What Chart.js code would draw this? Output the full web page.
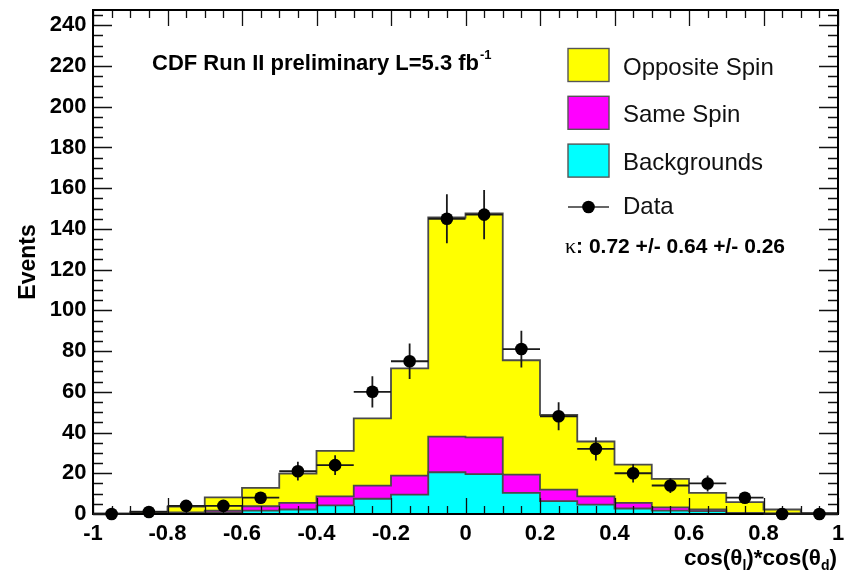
<!DOCTYPE html>
<html lang="en">
<head>
<meta charset="UTF-8" />
<title>cos(θl)*cos(θd) distribution</title>
<script src="https://cdn.jsdelivr.net/npm/chart.js"></script>
<style>
  body { margin: 0; background: #fff; }
  canvas { display: block; }
</style>
</head>
<body>
<canvas id="spinChart" width="848" height="570"></canvas>
<script>
// histogram binning: 20 bins of 0.1 from -1 to 1
const binEdges = [-1, -0.9, -0.8, -0.7, -0.6, -0.5, -0.4, -0.3, -0.2, -0.1, 0,
                  0.1, 0.2, 0.3, 0.4, 0.5, 0.6, 0.7, 0.8, 0.9, 1];

// stacked expectations per bin (events)
const backgrounds = [0.1, 0.2, 0.3, 0.8, 1.7, 2.2, 4.2, 7.5, 9.5, 20.5,
                     19.6, 10.4, 6.3, 4.6, 2.7, 1.7, 1.4, 0.3, 0.2, 0.1];
const sameSpin = [0.0, 0.1, 0.5, 0.9, 2.1, 3.3, 4.5, 6.4, 9.3, 17.5,
                  18.0, 8.9, 5.7, 4.1, 2.8, 1.6, 0.8, 0.3, 0.1, 0.0];
const oppositeSpin = [0.2, 0.8, 2.8, 6.5, 9.0, 14.3, 22.3, 33.1, 52.7, 107.6,
                      110.0, 56.2, 36.7, 26.9, 18.7, 13.9, 8.2, 5.2, 1.9, 0.4];

// observed counts and their errors
const dataCounts = [0, 1, 4, 4, 8, 21, 24, 60, 75, 145, 147, 81, 48, 32, 20, 14, 15, 8, 0, 0];
const dataErrors = [0, 1, 2, 2, 2.8, 4.6, 4.9, 7.7, 8.7, 12, 12.1, 9, 6.9, 5.7, 4.5, 3.7, 3.9, 2.8, 0, 0];

const xTickValues = [-1, -0.8, -0.6, -0.4, -0.2, 0, 0.2, 0.4, 0.6, 0.8, 1];
const xTickLabels = ['-1', '-0.8', '-0.6', '-0.4', '-0.2', '0', '0.2', '0.4', '0.6', '0.8', '1'];
const yTickValues = [0, 20, 40, 60, 80, 100, 120, 140, 160, 180, 200, 220, 240];
const yMax = 247.5;

const FONT = '"Liberation Sans", Arial, sans-serif';

// step outline: one point per bin edge, last bin repeated to close the step
function steps(values) {
  return binEdges.map((x, i) => ({ x, y: values[Math.min(i, values.length - 1)] }));
}
const binCenters = binEdges.slice(0, -1).map((e, i) => (e + binEdges[i + 1]) / 2);

function histDataset(label, values, fillColor, order) {
  return {
    label,
    data: steps(values),
    stack: 'mc',
    order,
    stepped: 'before',
    fill: 'origin',
    backgroundColor: fillColor,
    borderColor: '#4a4a4a',
    borderWidth: 1.8,
    pointRadius: 0
  };
}

// inward ticks on all four sides, frame, and data error bars
const rootAxes = {
  id: 'rootAxes',
  beforeDatasetDraw(chart, args) {
    if (args.index !== 3) return;
    const { ctx, chartArea: a, scales: { x, y } } = chart;
    ctx.save();
    ctx.strokeStyle = '#111';
    ctx.lineWidth = 1.3;
    ctx.beginPath();
    for (let i = 0; i <= 40; i++) {
      const px = Math.round(x.getPixelForValue(-1 + i * 0.05)) + 0.5;
      const len = i % 4 === 0 ? 16 : 8;
      ctx.moveTo(px, a.bottom); ctx.lineTo(px, a.bottom - len);
      ctx.moveTo(px, a.top); ctx.lineTo(px, a.top + len);
    }
    for (let v = 0; v <= 245; v += 5) {
      const py = Math.round(y.getPixelForValue(v)) + 0.5;
      const len = v % 20 === 0 ? 19 : 10;
      ctx.moveTo(a.left, py); ctx.lineTo(a.left + len, py);
      ctx.moveTo(a.right, py); ctx.lineTo(a.right - len, py);
    }
    ctx.stroke();

    ctx.lineWidth = 2;
    ctx.strokeStyle = '#000';
    ctx.strokeRect(a.left, a.top, a.right - a.left, a.bottom - a.top);

    // error bars: bin width horizontally, +/- error vertically
    ctx.strokeStyle = '#1a1a1a';
    ctx.lineWidth = 1.8;
    ctx.beginPath();
    dataCounts.forEach((n, i) => {
      const py = y.getPixelForValue(n);
      const cx = x.getPixelForValue(binCenters[i]);
      ctx.moveTo(x.getPixelForValue(binEdges[i]), py);
      ctx.lineTo(x.getPixelForValue(binEdges[i + 1]), py);
      if (dataErrors[i] > 0) {
        ctx.moveTo(cx, y.getPixelForValue(n - dataErrors[i]));
        ctx.lineTo(cx, y.getPixelForValue(n + dataErrors[i]));
      }
    });
    ctx.stroke();
    ctx.restore();
  },
  afterDraw(chart) {
    const { ctx } = chart;
    ctx.save();
    ctx.fillStyle = '#000';
    ctx.textBaseline = 'alphabetic';

    // header
    ctx.font = 'bold 22px ' + FONT;
    const head = 'CDF Run II preliminary L=5.3 fb';
    ctx.fillText(head, 152, 70);
    const hw = ctx.measureText(head).width;
    ctx.font = 'bold 13px ' + FONT;
    ctx.fillText('-1', 152 + hw + 1, 59);

    // legend
    const items = [
      { label: 'Opposite Spin', color: '#ffff00' },
      { label: 'Same Spin', color: '#ff00ff' },
      { label: 'Backgrounds', color: '#00ffff' }
    ];
    ctx.font = '24px ' + FONT;
    items.forEach((it, i) => {
      const top = 48.5 + i * 47.8;
      ctx.fillStyle = it.color;
      ctx.fillRect(568, top, 41, 33);
      ctx.strokeStyle = '#555';
      ctx.lineWidth = 1.4;
      ctx.strokeRect(568, top, 41, 33);
      ctx.fillStyle = '#111';
      ctx.fillText(it.label, 623, top + 26);
    });
    ctx.strokeStyle = '#333';
    ctx.lineWidth = 1.6;
    ctx.beginPath();
    ctx.moveTo(568, 207); ctx.lineTo(609, 207);
    ctx.stroke();
    ctx.fillStyle = '#000';
    ctx.beginPath();
    ctx.arc(588.5, 207, 6.3, 0, Math.PI * 2);
    ctx.fill();
    ctx.fillStyle = '#111';
    ctx.fillText('Data', 623, 214);

    // kappa result: greek letter in a serif face, numbers in bold sans
    ctx.fillStyle = '#000';
    ctx.font = '22px "Liberation Serif", serif';
    ctx.fillText('κ', 565, 253);
    const kw = ctx.measureText('κ').width;
    ctx.font = 'bold 21px ' + FONT;
    ctx.fillText(': 0.72 +/- 0.64 +/- 0.26', 565 + kw, 253);

    // x axis title with subscripts, right aligned to the frame
    const big = 'bold 22.5px ' + FONT, small = 'bold 14px ' + FONT;
    const parts = [['cos(θ', big, 0], ['l', small, 5], [')*cos(θ', big, 0], ['d', small, 5], [')', big, 0]];
    let w = 0;
    parts.forEach(p => { ctx.font = p[1]; w += ctx.measureText(p[0]).width; });
    let tx = chart.chartArea.right - 1 - w;
    parts.forEach(p => {
      ctx.font = p[1];
      ctx.fillText(p[0], tx, 565 + p[2]);
      tx += ctx.measureText(p[0]).width;
    });
    ctx.restore();
  }
};

new Chart(document.getElementById('spinChart'), {
  type: 'line',
  data: {
    datasets: [
      histDataset('Backgrounds', backgrounds, '#00ffff', 1),
      histDataset('Same Spin', sameSpin, '#ff00ff', 2),
      histDataset('Opposite Spin', oppositeSpin, '#ffff00', 3),
      {
        label: 'Data',
        data: binCenters.map((x, i) => ({ x, y: dataCounts[i] })),
        stack: 'data',
        order: 0,
        showLine: false,
        clip: false,
        pointRadius: 6.3,
        pointBackgroundColor: '#000',
        pointBorderColor: '#000',
        pointBorderWidth: 0
      }
    ]
  },
  options: {
    responsive: false,
    animation: false,
    layout: { padding: { left: 0, top: 10, right: 10, bottom: 0 } },
    plugins: { legend: { display: false }, tooltip: { enabled: false } },
    scales: {
      x: {
        type: 'linear',
        min: -1,
        max: 1,
        grid: { display: false, drawTicks: false },
        border: { display: false },
        afterBuildTicks: s => { s.ticks = xTickValues.map(value => ({ value })); },
        afterFit: s => { s.height = 56; s.paddingLeft = 0; s.paddingRight = 0; },
        ticks: {
          padding: 7,
          maxRotation: 0,
          color: '#000',
          font: { family: FONT, size: 22, weight: 'bold' },
          callback: (v, i) => xTickLabels[i]
        }
      },
      y: {
        stacked: true,
        min: 0,
        max: yMax,
        grid: { display: false, drawTicks: false },
        border: { display: false },
        afterBuildTicks: s => { s.ticks = yTickValues.map(value => ({ value })); },
        afterFit: s => { s.width = 93; s.paddingTop = 0; s.paddingBottom = 0; },
        ticks: {
          padding: 6.5,
          color: '#000',
          font: { family: FONT, size: 22, weight: 'bold' }
        },
        title: {
          display: true,
          text: 'Events',
          color: '#000',
          padding: { top: 15, bottom: 0 },
          font: { family: FONT, size: 23, weight: 'bold' }
        }
      }
    }
  },
  plugins: [rootAxes]
});
</script>
</body>
</html>
